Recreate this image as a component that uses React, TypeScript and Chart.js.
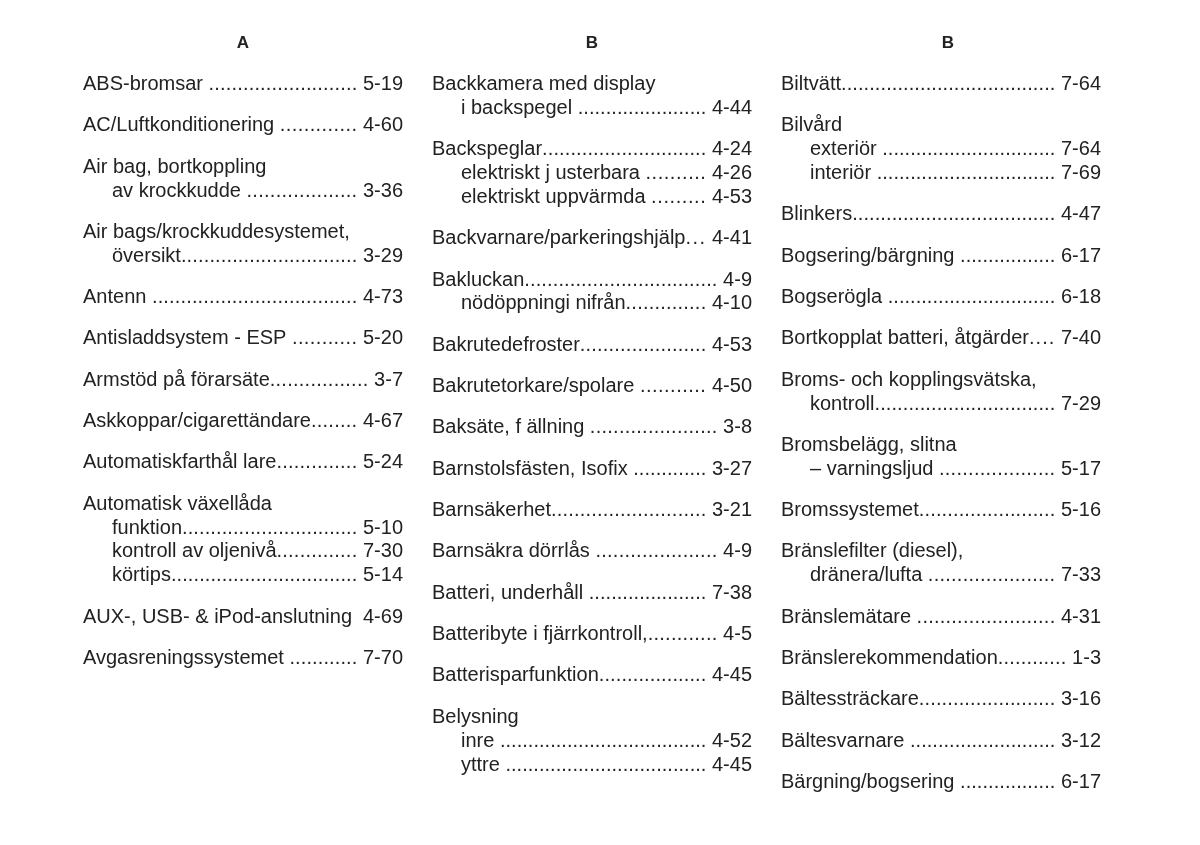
import React, { useEffect, useRef } from "react";
import { Chart, registerables } from "chart.js";

Chart.register(...registerables);

// ---- data ----
type Line = [string, string];
type Entry = Line[];

const headers: string[] = ["A", "B", "B"];

const columnA: Entry[] = [
  [["ABS-bromsar ", "5-19"]],
  [["AC/Luftkonditionering ", "4-60"]],
  [["Air bag, bortkoppling", ""], ["av krockkudde ", "3-36"]],
  [["Air bags/krockkuddesystemet,", ""], ["översikt", "3-29"]],
  [["Antenn ", "4-73"]],
  [["Antisladdsystem - ESP ", "5-20"]],
  [["Armstöd på förarsäte", "3-7"]],
  [["Askkoppar/cigarettändare", "4-67"]],
  [["Automatiskfarthål lare", "5-24"]],
  [["Automatisk växellåda", ""], ["funktion", "5-10"], ["kontroll av oljenivå", "7-30"], ["körtips", "5-14"]],
  [["AUX-, USB- & iPod-anslutning", "4-69"]],
  [["Avgasreningssystemet ", "7-70"]],
];

const columnB1: Entry[] = [
  [["Backkamera med display", ""], ["i backspegel ", "4-44"]],
  [["Backspeglar", "4-24"], ["elektriskt j usterbara ", "4-26"], ["elektriskt uppvärmda ", "4-53"]],
  [["Backvarnare/parkeringshjälp", "4-41"]],
  [["Bakluckan", "4-9"], ["nödöppningi nifrån", "4-10"]],
  [["Bakrutedefroster", "4-53"]],
  [["Bakrutetorkare/spolare ", "4-50"]],
  [["Baksäte, f ällning ", "3-8"]],
  [["Barnstolsfästen, Isofix ", "3-27"]],
  [["Barnsäkerhet", "3-21"]],
  [["Barnsäkra dörrlås ", "4-9"]],
  [["Batteri, underhåll ", "7-38"]],
  [["Batteribyte i fjärrkontroll,", "4-5"]],
  [["Batterisparfunktion", "4-45"]],
  [["Belysning", ""], ["inre ", "4-52"], ["yttre ", "4-45"]],
];

const columnB2: Entry[] = [
  [["Biltvätt", "7-64"]],
  [["Bilvård", ""], ["exteriör ", "7-64"], ["interiör ", "7-69"]],
  [["Blinkers", "4-47"]],
  [["Bogsering/bärgning ", "6-17"]],
  [["Bogserögla ", "6-18"]],
  [["Bortkopplat batteri, åtgärder", "7-40"]],
  [["Broms- och kopplingsvätska,", ""], ["kontroll", "7-29"]],
  [["Bromsbelägg, slitna", ""], ["– varningsljud ", "5-17"]],
  [["Bromssystemet", "5-16"]],
  [["Bränslefilter (diesel),", ""], ["dränera/lufta ", "7-33"]],
  [["Bränslemätare ", "4-31"]],
  [["Bränslerekommendation", "1-3"]],
  [["Bältessträckare", "3-16"]],
  [["Bältesvarnare ", "3-12"]],
  [["Bärgning/bogsering ", "6-17"]],
];

const columns: Entry[][] = [columnA, columnB1, columnB2];

// ---- layout / style constants ----
const W = 1200;
const H = 845;
const UNIT = 23.87; // px per text line
const ENTRY_GAP = 0.7315; // extra space between entries, in line units
const FIRST_BASELINE = 90;
const Y_MIN = -3.5;
const Y_MAX = 30;
const HEADER_V = -1.76;
const PAD_TOP = FIRST_BASELINE + Y_MIN * UNIT;
const PAD_BOTTOM = H - (PAD_TOP + (Y_MAX - Y_MIN) * UNIT);
const COL_PITCH = 349;
const PAD_LEFT = 68.5;
const PAD_RIGHT = W - PAD_LEFT - 3 * COL_PITCH;
const HALF_COL = 160;
const INDENT = 29;
const HEADER_NUDGE = [0, 0, 7];
const TEXT_COLOR = "#222222";
const FONT = '20px "Liberation Sans", Arial, Helvetica, sans-serif';
const HEADER_FONT = 'bold 17px "Liberation Sans", Arial, Helvetica, sans-serif';

type Pt = { x: number; y: number; text: string; page: string; indent: boolean };

function buildPoints(entries: Entry[], col: number): Pt[] {
  const pts: Pt[] = [];
  let v = 0;
  entries.forEach((entry) => {
    entry.forEach((line, li) => {
      pts.push({ x: col + 0.5, y: v, text: line[0], page: line[1], indent: li > 0 });
      v += 1;
    });
    v += ENTRY_GAP;
  });
  return pts;
}

const indexPlugin = {
  id: "indexText",
  afterDatasetsDraw(chart: any) {
    const ctx: CanvasRenderingContext2D = chart.ctx;
    ctx.save();
    ctx.fillStyle = TEXT_COLOR;
    ctx.textBaseline = "alphabetic";
    chart.data.datasets.forEach((ds: any, di: number) => {
      const meta = chart.getDatasetMeta(di);
      meta.data.forEach((el: any, i: number) => {
        const raw = ds.data[i];
        const cx = el.x;
        const cy = el.y;
        if (ds.isHeader) {
          ctx.font = HEADER_FONT;
          ctx.textAlign = "center";
          ctx.fillText(raw.text, cx + HEADER_NUDGE[i], cy);
          return;
        }
        ctx.font = FONT;
        const left = cx - HALF_COL + (raw.indent ? INDENT : 0);
        const right = cx + HALF_COL;
        ctx.textAlign = "left";
        ctx.fillText(raw.text, left, cy);
        if (raw.page) {
          ctx.textAlign = "right";
          ctx.fillText(raw.page, right, cy);
          const labelEnd = left + ctx.measureText(raw.text).width;
          const pageStart = right - ctx.measureText(raw.page).width;
          const space = ctx.measureText(" ").width;
          const dot = ctx.measureText(".").width;
          const dotsEnd = pageStart - space;
          const gap = dotsEnd - labelEnd;
          const n = Math.floor(gap / dot);
          if (n > 0) {
            const step = gap / n;
            ctx.textAlign = "left";
            for (let k = 0; k < n; k++) {
              ctx.fillText(".", labelEnd + k * step, cy);
            }
          }
        }
      });
    });
    ctx.restore();
  },
};

export default function App() {
  const ref = useRef<HTMLCanvasElement | null>(null);

  useEffect(() => {
    if (!ref.current) return;
    const datasets: any[] = columns.map((entries, c) => ({
      label: headers[c],
      data: buildPoints(entries, c),
      pointRadius: 0,
      pointHoverRadius: 0,
      showLine: false,
    }));
    datasets.push({
      label: "headers",
      isHeader: true,
      data: headers.map((h, c) => ({ x: c + 0.5, y: HEADER_V, text: h })),
      pointRadius: 0,
      pointHoverRadius: 0,
      showLine: false,
    });
    const chart = new Chart(ref.current, {
      type: "scatter",
      data: { datasets },
      options: {
        animation: false,
        responsive: false,
        devicePixelRatio: 1,
        events: [],
        layout: {
          padding: { top: PAD_TOP, bottom: PAD_BOTTOM, left: PAD_LEFT, right: PAD_RIGHT },
        },
        plugins: {
          legend: { display: false },
          tooltip: { enabled: false },
          title: { display: false },
        },
        scales: {
          x: { type: "linear", min: 0, max: 3, display: false },
          y: { type: "linear", min: Y_MIN, max: Y_MAX, reverse: true, display: false },
        },
      },
      plugins: [indexPlugin],
    } as any);
    return () => chart.destroy();
  }, []);

  return (
    <div style={{ position: "absolute", left: 0, top: 0, width: W, height: H, background: "#ffffff" }}>
      <canvas ref={ref} width={W} height={H} style={{ display: "block", width: W, height: H }} />
    </div>
  );
}
